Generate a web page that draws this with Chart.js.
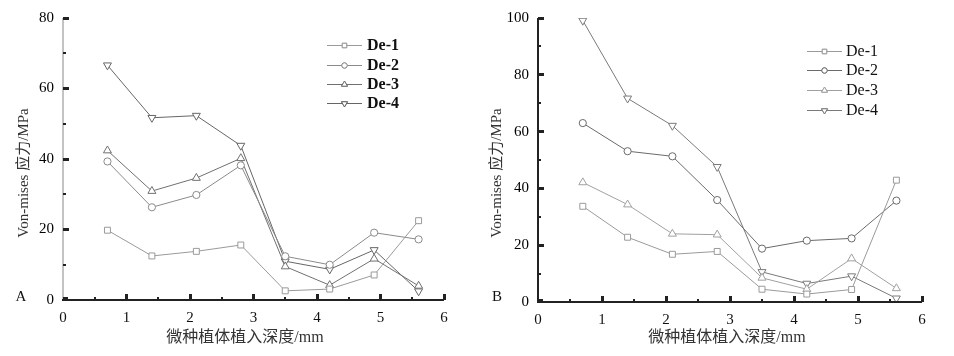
<!DOCTYPE html>
<html>
<head>
<meta charset="utf-8">
<script src="https://cdn.jsdelivr.net/npm/chart.js@4.4.1/dist/chart.umd.min.js"></script>
<style>
  html, body { margin: 0; padding: 0; background: #fff; }
  #wrap { position: relative; width: 954px; height: 356px; overflow: hidden; }
  canvas { position: absolute; top: 0; }
  #cA { left: 0; }
  #cB { left: 477px; }
</style>
</head>
<body>
<div id="wrap">
  <canvas id="cA" width="477" height="356"></canvas>
  <canvas id="cB" width="477" height="356"></canvas>
</div>
<script>
// ---------- data ----------
const depths = [0.7, 1.4, 2.1, 2.8, 3.5, 4.2, 4.9, 5.6];
const seriesNames = ['De-1', 'De-2', 'De-3', 'De-4'];

const A_De1 = [19.8, 12.5, 13.8, 15.6, 2.6, 3.1, 7.1, 22.5];
const A_De2 = [39.3, 26.3, 29.8, 38.2, 12.4, 10.0, 19.1, 17.2];
const A_De3 = [42.4, 30.9, 34.6, 40.2, 9.5, 4.2, 11.7, 4.0];
const A_De4 = [66.6, 51.7, 52.3, 43.8, 11.0, 8.7, 14.2, 2.5];

const B_De1 = [33.7, 22.8, 16.8, 17.8, 4.5, 2.8, 4.4, 42.9];
const B_De2 = [63.0, 53.1, 51.3, 35.9, 18.8, 21.6, 22.4, 35.7];
const B_De3 = [42.1, 34.3, 24.0, 23.7, 8.5, 4.5, 15.3, 4.8];
const B_De4 = [99.1, 71.7, 62.1, 47.6, 10.6, 6.5, 9.1, 1.3];

const xTitle = '微种植体植入深度/mm';
const yTitle = 'Von-mises 应力/MPa';

// ---------- styling ----------
const FONT = "'Liberation Serif', 'Times New Roman', 'Noto Sans CJK SC', serif";
const markers = [
  { pointStyle: 'rect', rotation: 0, radius: 4.2 },
  { pointStyle: 'circle', rotation: 0, radius: 3.6 },
  { pointStyle: 'triangle', rotation: 0, radius: 4.6 },
  { pointStyle: 'triangle', rotation: 180, radius: 4.6 }
];

function makeDatasets(arrs, colors) {
  return arrs.map((vals, i) => ({
    label: seriesNames[i],
    data: depths.map((d, k) => ({ x: d, y: vals[k] })),
    showLine: true,
    borderColor: colors[i],
    borderWidth: 1,
    pointStyle: markers[i].pointStyle,
    rotation: markers[i].rotation,
    pointRadius: markers[i].radius,
    pointBackgroundColor: '#ffffff',
    pointBorderColor: colors[i],
    pointBorderWidth: 1,
    tension: 0
  }));
}

const decorPlugin = {
  id: 'decor',
  afterDraw(chart, args, opts) {
    const ctx = chart.ctx;
    const a = chart.chartArea;
    const xs = chart.scales.x, ys = chart.scales.y;
    ctx.save();
    // axis lines
    ctx.fillStyle = opts.yAxisColor;
    ctx.fillRect(a.left - opts.yAxisW / 2, a.top, opts.yAxisW, a.bottom - a.top + 1);
    ctx.fillStyle = '#222';
    ctx.fillRect(a.left - 1, a.bottom - 1, a.right - a.left + 1, 2);
    // y ticks (inward)
    for (let v = ys.min; v <= ys.max + 1e-9; v += opts.yMinor) {
      const p = ys.getPixelForValue(v);
      const major = Math.abs(v / opts.yMajor - Math.round(v / opts.yMajor)) < 1e-6;
      const len = major ? 6 : 3, th = major ? 3 : 2;
      if (v === ys.min) { ctx.fillRect(a.left, Math.round(p - 3), 5, 3); continue; }
      ctx.fillRect(a.left, Math.round(p - th / 2), len, th);
    }
    // x ticks (inward)
    for (let v = xs.min; v <= xs.max + 1e-9; v += 0.5) {
      const p = xs.getPixelForValue(v);
      const major = Math.abs(v - Math.round(v)) < 1e-6;
      const len = major ? 6 : 3, th = major ? 3 : 2;
      if (v === xs.min) continue;
      ctx.fillRect(Math.round(p - th / 2), a.bottom - len, th, len);
    }
    // titles
    ctx.fillStyle = '#333';
    ctx.font = '15px ' + FONT;
    ctx.textAlign = 'center';
    ctx.textBaseline = 'middle';
    ctx.save();
    ctx.translate(opts.yTitleX, opts.yTitleY);
    ctx.rotate(-Math.PI / 2);
    ctx.fillText(yTitle, 0, 0);
    ctx.restore();
    ctx.font = '16px ' + FONT;
    ctx.fillText(xTitle, opts.xTitleX, opts.xTitleY);
    // panel letter
    ctx.fillStyle = '#111';
    ctx.font = '15px ' + FONT;
    ctx.fillText(opts.letter, opts.letterX, opts.letterY);
    // legend
    const L = opts.legend;
    chart.data.datasets.forEach((ds, i) => {
      const yy = L.rows[i];
      ctx.strokeStyle = ds.borderColor;
      ctx.lineWidth = 1;
      ctx.beginPath();
      ctx.moveTo(L.x0, yy + 0.5);
      ctx.lineTo(L.x1, yy + 0.5);
      ctx.stroke();
      ctx.fillStyle = '#fff';
      Chart.helpers.drawPoint(ctx, {
        pointStyle: ds.pointStyle, rotation: ds.rotation,
        radius: ds.pointRadius * 0.75, borderWidth: 1
      }, (L.x0 + L.x1) / 2, yy + 0.5);
      ctx.fill();
      ctx.strokeStyle = ds.borderColor;
      ctx.stroke();
      ctx.fillStyle = '#111';
      ctx.font = L.font + ' ' + FONT;
      ctx.textAlign = 'left';
      ctx.textBaseline = 'middle';
      ctx.fillText(ds.label, L.tx, yy + 1);
    });
    ctx.restore();
  }
};

function makeChart(id, datasets, cfg) {
  return new Chart(document.getElementById(id), {
    type: 'scatter',
    data: { datasets },
    plugins: [decorPlugin],
    options: {
      responsive: false,
      animation: false,
      devicePixelRatio: 1,
      layout: { padding: { left: 0, top: cfg.top, right: cfg.right, bottom: 0 } },
      plugins: {
        legend: { display: false },
        tooltip: { enabled: false },
        decor: cfg.decor
      },
      scales: {
        x: {
          type: 'linear', min: 0, max: 6,
          grid: { display: false, drawTicks: false },
          border: { display: false },
          ticks: { stepSize: 1, color: '#111', padding: 9, font: { family: FONT, size: 15 } },
          afterFit(s) { s.height = cfg.xh; }
        },
        y: {
          type: 'linear', min: 0, max: cfg.ymax,
          grid: { display: false, drawTicks: false },
          border: { display: false },
          ticks: { stepSize: cfg.ystep, color: '#000', padding: cfg.ypad, font: { family: FONT, size: 15 } },
          afterFit(s) { s.width = cfg.yw; }
        }
      }
    }
  });
}

makeChart('cA', makeDatasets([A_De1, A_De2, A_De3, A_De4], ['#9a9a9a', '#8a8a8a', '#707070', '#666666']), {
  top: 15, right: 33, xh: 56, yw: 63, ymax: 80, ystep: 20, ypad: 9,
  decor: {
    yMajor: 20, yMinor: 10, yAxisColor: '#888', yAxisW: 1,
    yTitleX: 24, yTitleY: 173,
    xTitleX: 245, xTitleY: 338,
    letter: 'A', letterX: 21, letterY: 297,
    legend: { x0: 327, x1: 362, tx: 367, rows: [45, 65, 84, 103], font: 'bold 16px' }
  }
});

makeChart('cB', makeDatasets([B_De1, B_De2, B_De3, B_De4], ['#9a9a9a', '#6a6a6a', '#a0a0a0', '#7a7a7a']), {
  top: 16, right: 32, xh: 54, yw: 61, ymax: 100, ystep: 20, ypad: 9,
  decor: {
    yMajor: 20, yMinor: 10, yAxisColor: '#222', yAxisW: 2,
    yTitleX: 20, yTitleY: 173,
    xTitleX: 250, xTitleY: 338,
    letter: 'B', letterX: 20, letterY: 297,
    legend: { x0: 330, x1: 365, tx: 369, rows: [51, 70, 90, 110], font: '16px' }
  }
});
</script>
</body>
</html>
